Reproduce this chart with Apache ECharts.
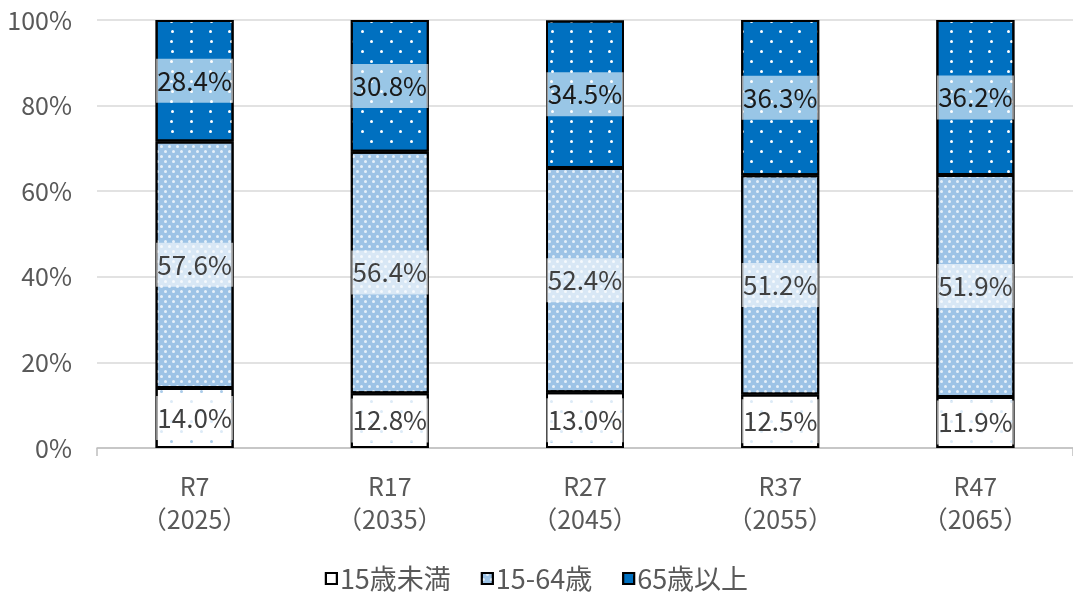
<!DOCTYPE html>
<html><head><meta charset="utf-8">
<script src="https://cdn.jsdelivr.net/npm/echarts@6/dist/echarts.min.js"></script>
<style>html,body{margin:0;padding:0;background:#fff}#c{width:1073px;height:598px}</style>
</head><body><div id="c"></div>
<script>
const categories = ['R7\n（2025）','R17\n（2035）','R27\n（2045）','R37\n（2055）','R47\n（2065）'];
const seriesNames = ['15歳未満','15-64歳','65歳以上'];
const under15 = [14.0, 12.8, 13.0, 12.5, 11.9];
const age15to64 = [57.6, 56.4, 52.4, 51.2, 51.9];
const over65 = [28.4, 30.8, 34.5, 36.3, 36.2];
const yTicks = [0, 20, 40, 60, 80, 100];

const FONT = '"Noto Sans CJK JP","Noto Sans",sans-serif';
const chart = echarts.init(document.getElementById('c'), null, {renderer:'canvas'});

function lbl(color, bg){
  return {
    show:true, position:'inside', formatter:p=>p.value.toFixed(1)+'%',
    fontFamily:FONT, fontSize:26, color:color,
    backgroundColor:bg, width:77, align:'center', padding:[9,0,9,0]
  };
}

chart.setOption({
  animation:false,
  textStyle:{fontFamily:FONT},
  grid:{left:97, top:20, width:980, height:428, containLabel:false},
  xAxis:{
    type:'category', data:categories, boundaryGap:true,
    axisLine:{lineStyle:{color:'#bfbfbf', width:1.5}},
    axisTick:{show:true, length:8, interval:function(i){return i===0;}, lineStyle:{color:'#bfbfbf', width:1.5}},
    axisLabel:{fontFamily:FONT, fontSize:25, color:'#595959', lineHeight:33, margin:22}
  },
  yAxis:{
    type:'value', min:0, max:100, interval:20,
    axisLine:{show:false}, axisTick:{show:false},
    splitLine:{lineStyle:{color:'#d9d9d9', width:1.5}},
    axisLabel:{fontFamily:FONT, fontSize:25, color:'#595959', margin:25,
      formatter:v=>yTicks.includes(v)?v+'%':''}
  },
  legend:{
    bottom:1, left:'center', icon:'rect', itemWidth:11, itemHeight:11, itemGap:30,
    textStyle:{fontFamily:FONT, fontSize:27, color:'#595959', padding:[0,0,0,-2]},
    data:seriesNames, selectedMode:false
  },
  series:[
    {name:seriesNames[0], type:'bar', stack:'a', data:under15, barWidth:78,
     itemStyle:{color:'#ffffff', borderColor:'#000', borderWidth:2,
       decal:{symbol:'circle', color:'#a9cbea', symbolSize:1, dashArrayX:[[2.5,16.5],[0,9.5,2.5,7]], dashArrayY:[2.5,7]}},
     label:lbl('#404040','rgba(255,255,255,0.6)')},
    {name:seriesNames[1], type:'bar', stack:'a', data:age15to64,
     itemStyle:{color:'#9dc3e6', borderColor:'#000', borderWidth:2,
       decal:{symbol:'circle', color:'rgba(255,255,255,0.75)', symbolSize:1, dashArrayX:[[3,5],[0,4,3,1]], dashArrayY:[3,1.5]}},
     label:lbl('#404040','rgba(255,255,255,0.6)')},
    {name:seriesNames[2], type:'bar', stack:'a', data:over65,
     itemStyle:{color:'#0070c0', borderColor:'#000', borderWidth:2,
       decal:{symbol:'circle', color:'#ffffff', symbolSize:1, dashArrayX:[[3,16],[0,9.5,3,6.5]], dashArrayY:[3,6.5]}},
     label:lbl('#1a1a1a','rgba(255,255,255,0.6)')}
  ]
});
</script></body></html>
